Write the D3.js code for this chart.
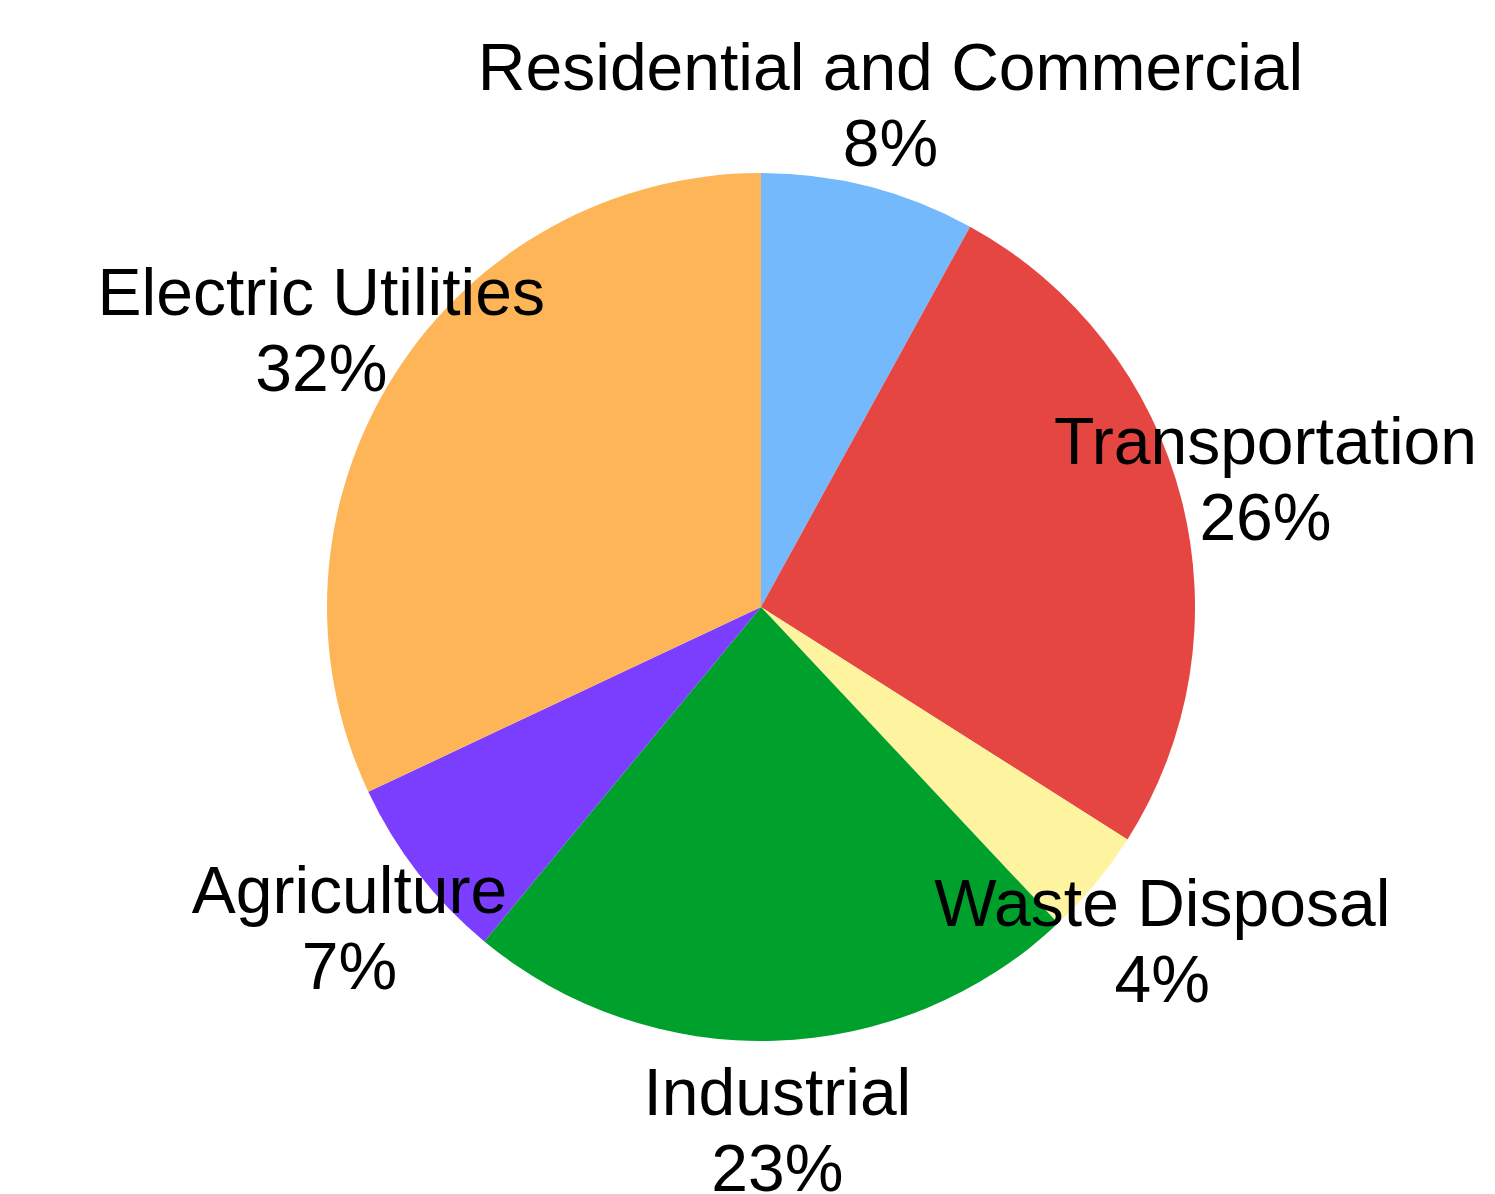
<!DOCTYPE html>
<html>
<head>
<meta charset="utf-8">
<script src="https://cdn.jsdelivr.net/npm/d3@7"></script>
<style>
  body { margin: 0; background: #fff; }
  text { font-family: "Liberation Sans", Arial, sans-serif; }
</style>
</head>
<body>
<div id="chart"></div>
<script>
/**
 * CONSTANTS AND DATA
 * */
const width = 1495,
  height = 1194,
  cx = 761,
  cy = 607,
  radius = 434;

const sectors = ["Residential and Commercial", "Transportation", "Waste Disposal", "Industrial", "Agriculture", "Electric Utilities"];
const shares = [8, 26, 4, 23, 7, 32];
const colors = ["#75b9fd", "#e54641", "#fef39e", "#00a02d", "#7b3dfe", "#fdb557"];

const data = sectors.map((s, i) => ({ name: s, value: shares[i], color: colors[i] }));

const svg = d3.select("#chart")
  .append("svg")
  .attr("width", width)
  .attr("height", height);

const g = svg.append("g").attr("transform", `translate(${cx}, ${cy})`);

// clockwise from 12 o'clock, same order as data
const pie = d3.pie().value(d => d.value).sort(null);
const arc = d3.arc().innerRadius(0).outerRadius(radius);
const labelArc = d3.arc().innerRadius(radius * 1.2).outerRadius(radius * 1.2);

const arcs = pie(data);

g.selectAll("path.slice")
  .data(arcs)
  .join("path")
  .attr("class", "slice")
  .attr("d", arc)
  .attr("fill", d => d.data.color);

const total = d3.sum(shares);

const label = g.selectAll("text.label")
  .data(arcs)
  .join("text")
  .attr("class", "label")
  .attr("text-anchor", "middle")
  .attr("font-size", 66)
  .attr("fill", "#000")
  .attr("transform", d => `translate(${labelArc.centroid(d)})`);

label.append("tspan")
  .attr("x", 0)
  .attr("y", -13)
  .text(d => d.data.name);

label.append("tspan")
  .attr("x", 0)
  .attr("y", 63)
  .text(d => Math.round(d.data.value / total * 100) + "%");
</script>
</body>
</html>
